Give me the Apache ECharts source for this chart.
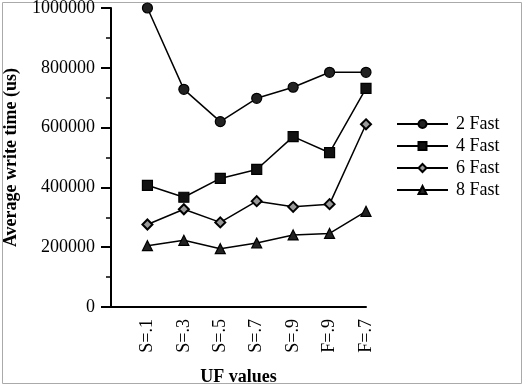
<!DOCTYPE html>
<html><head><meta charset="utf-8">
<script src="https://cdn.jsdelivr.net/npm/echarts@6/dist/echarts.min.js"></script>
<style>html,body{margin:0;padding:0;background:#fff}#c{width:524px;height:387px}</style>
</head><body><div id="c"></div>
<script>
const categories = ['', 'S=.1', 'S=.3', 'S=.5', 'S=.7', 'S=.9', 'F=.9', 'F=.7'];
const seriesNames = ['2 Fast', '4 Fast', '6 Fast', '8 Fast'];
const fast2 = [1000000, 728000, 620000, 698000, 735000, 785000, 785000];
const fast4 = [407000, 367000, 430000, 460000, 570000, 516000, 731000];
const fast6 = [276000, 327000, 283000, 354000, 335000, 344000, 611000];
const fast8 = [205000, 223000, 195000, 214000, 241000, 246000, 320000];
const yTicks = [0, 200000, 400000, 600000, 800000, 1000000];

const FONT = 'Liberation Serif';
const symbols = [
  {symbol: 'circle', size: 10, fill: '#222', border: '#000', bw: 1.2},
  {symbol: 'rect', size: 10, fill: '#111', border: '#000', bw: 1.2},
  {symbol: 'diamond', size: 10, fill: '#999', border: '#000', bw: 2},
  {symbol: 'triangle', size: 10, fill: '#222', border: '#000', bw: 1.2}
];
const values = [fast2, fast4, fast6, fast8];

const chart = echarts.init(document.getElementById('c'), null, {renderer: 'canvas'});
chart.setOption({
  animation: false,
  backgroundColor: '#fff',
  textStyle: {fontFamily: FONT, color: '#000'},
  graphic: [{
    type: 'rect', shape: {x: 2.5, y: 2.5, width: 519, height: 381},
    style: {fill: 'none', stroke: '#aaa', lineWidth: 1}, silent: true, z: -1
  }],
  grid: {left: 111, right: 158, top: 8, bottom: 80, containLabel: false, outerBoundsMode: 'none'},
  legend: {
    orient: 'vertical', left: 391, top: 110,
    itemWidth: 51, itemHeight: 10, itemGap: 4,
    data: seriesNames,
    textStyle: {fontFamily: FONT, fontSize: 18, color: '#000', padding: [0, 0, 0, 3]}
  },
  xAxis: {
    type: 'category', data: categories, boundaryGap: false,
    name: 'UF values', nameLocation: 'middle', nameGap: 61,
    nameTextStyle: {fontFamily: FONT, fontSize: 18, fontWeight: 'bold', color: '#000'},
    axisLine: {lineStyle: {color: '#000', width: 2}},
    axisTick: {show: false},
    axisLabel: {rotate: 90, interval: 0, margin: 12, fontFamily: FONT, fontSize: 18, color: '#000'},
    splitLine: {show: false}
  },
  yAxis: {
    type: 'value', min: yTicks[0], max: yTicks[yTicks.length - 1], interval: yTicks[1] - yTicks[0],
    name: 'Average write time (us)', nameLocation: 'middle', nameGap: 91,
    nameTextStyle: {fontFamily: FONT, fontSize: 18, fontWeight: 'bold', color: '#000'},
    axisLine: {show: true, lineStyle: {color: '#000', width: 2}},
    axisTick: {show: true, length: 10, lineStyle: {color: '#000', width: 2}},
    minorTick: {show: true, splitNumber: 2, length: 5, lineStyle: {color: '#000', width: 1.5}},
    axisLabel: {margin: 16, fontFamily: FONT, fontSize: 18, color: '#000', formatter: v => String(v)},
    splitLine: {show: false}
  },
  series: seriesNames.map((n, i) => ({
    name: n, type: 'line',
    data: [null].concat(values[i]),
    symbol: symbols[i].symbol, symbolSize: symbols[i].size,
    showAllSymbol: true, clip: false,
    lineStyle: {color: '#000', width: 1.5},
    itemStyle: {color: symbols[i].fill, borderColor: symbols[i].border, borderWidth: symbols[i].bw},
    emphasis: {disabled: true}
  }))
});
</script></body></html>
